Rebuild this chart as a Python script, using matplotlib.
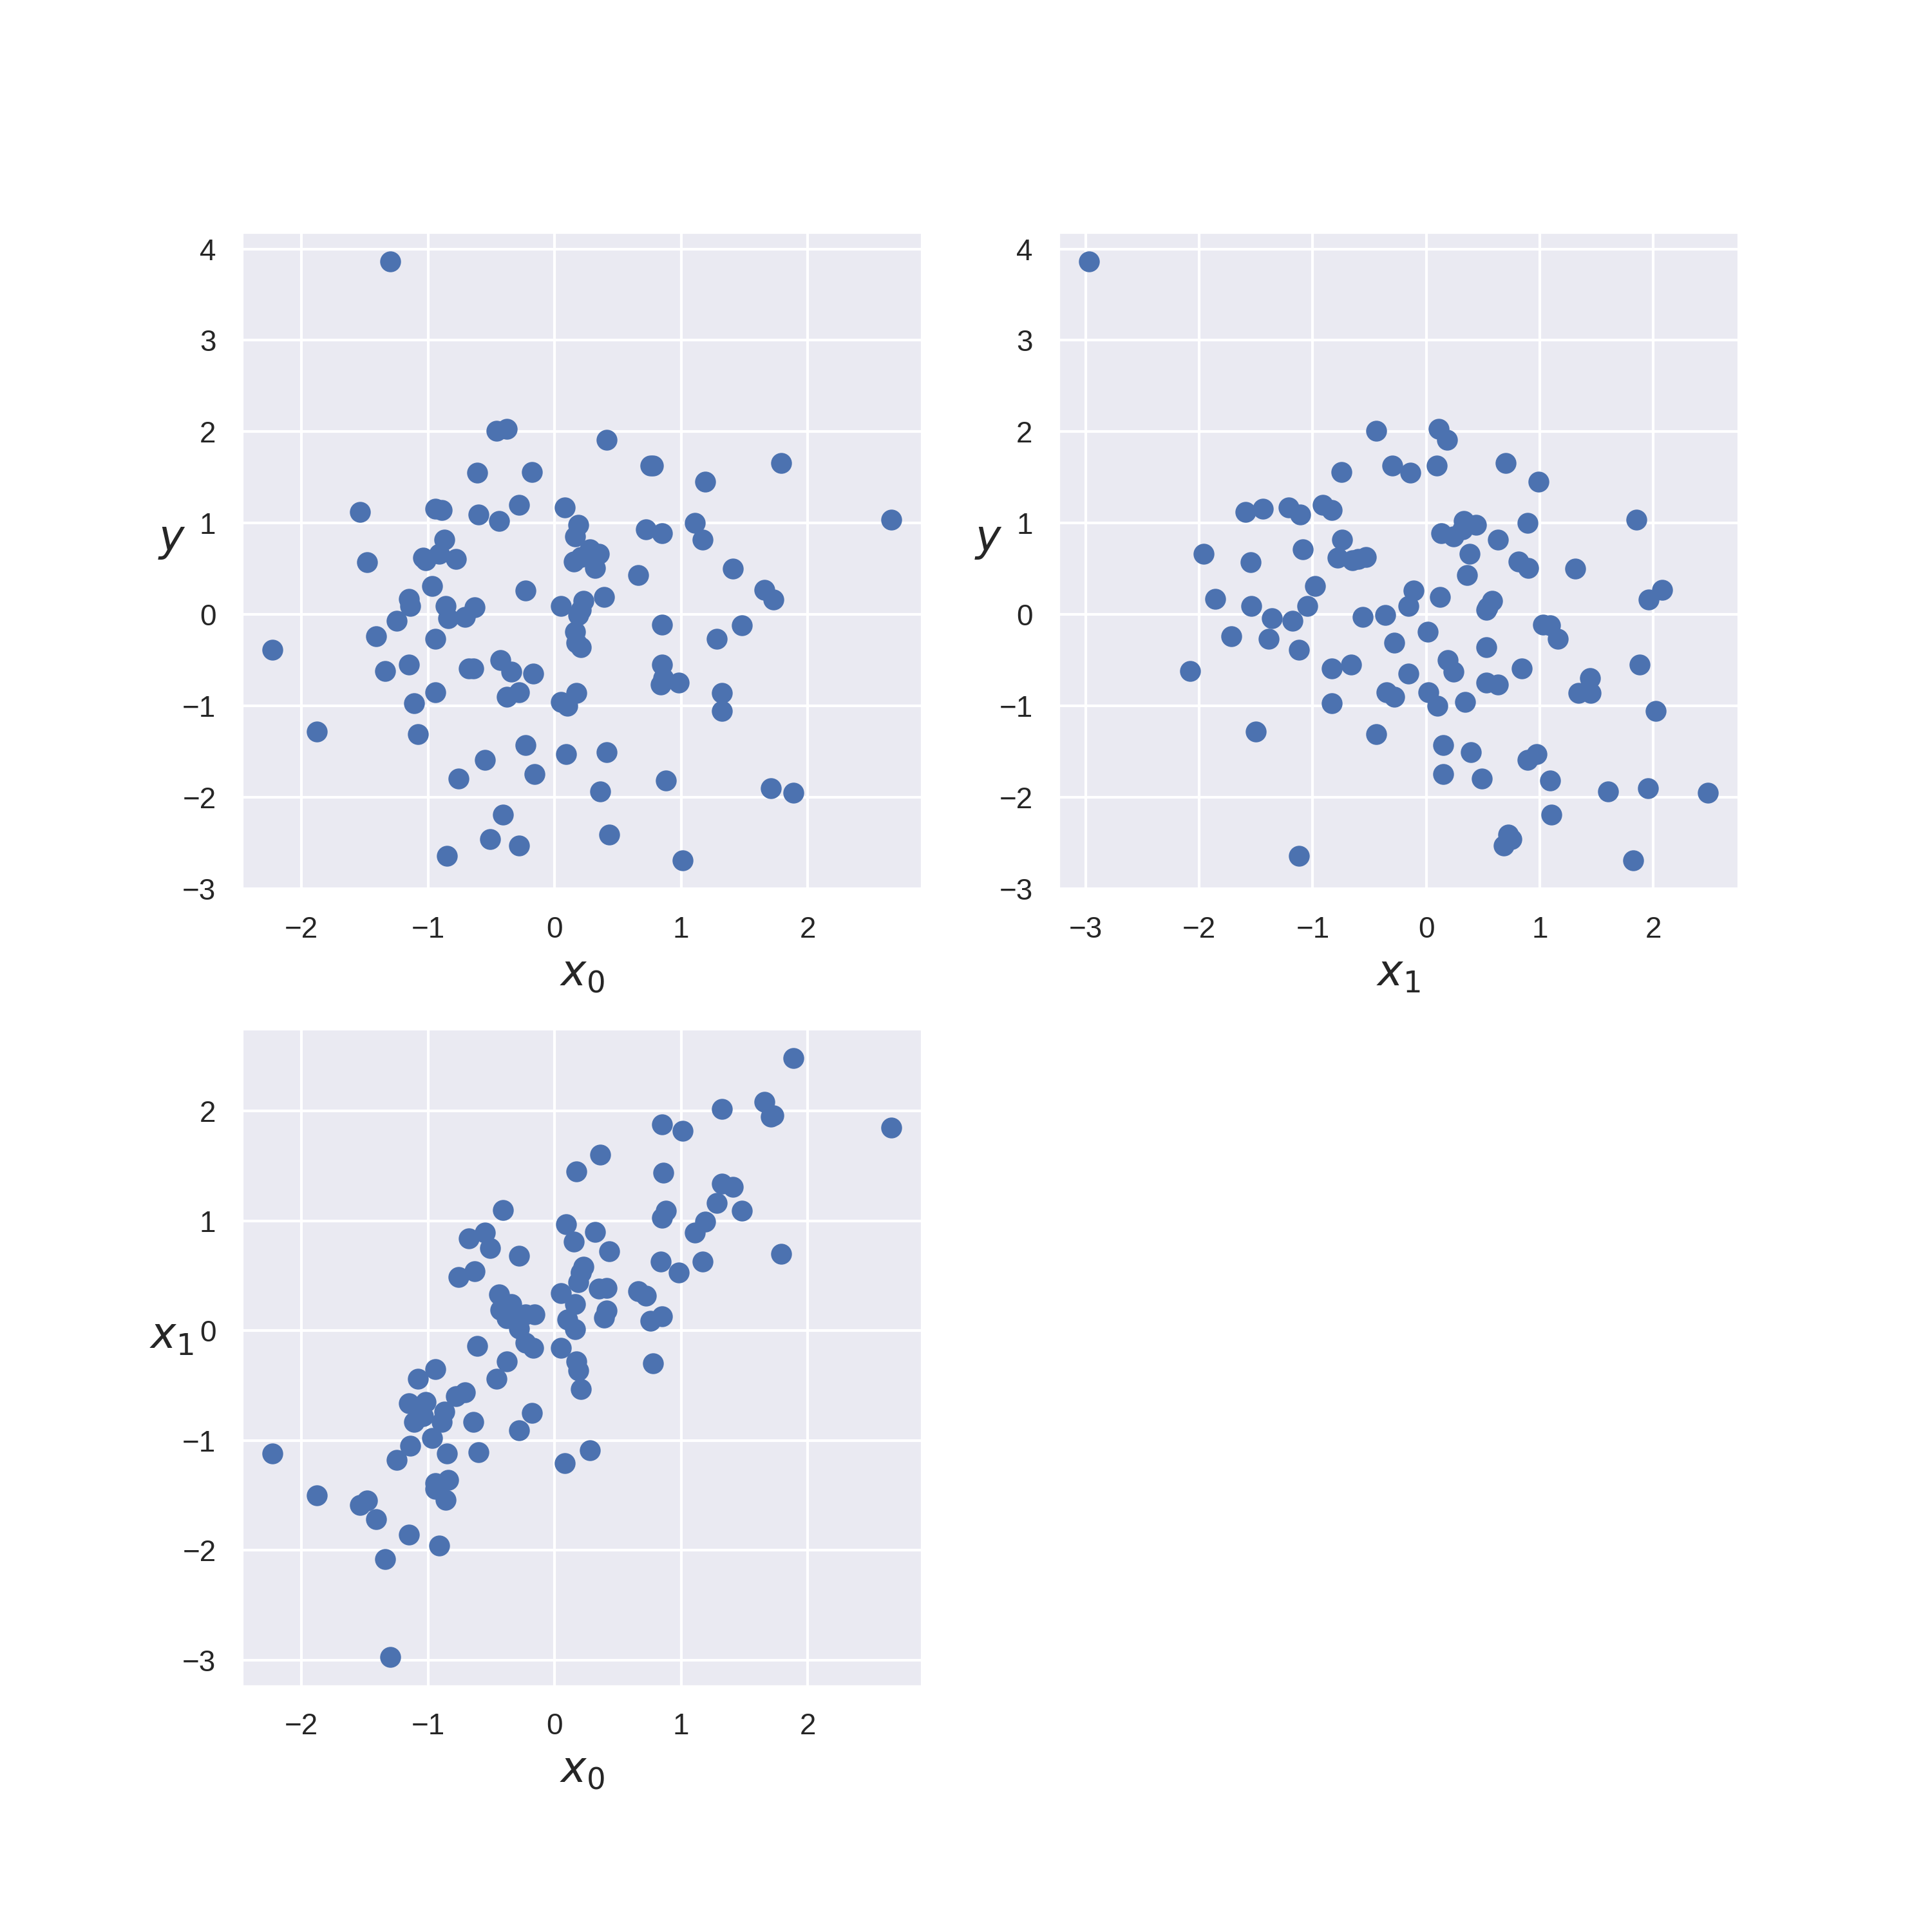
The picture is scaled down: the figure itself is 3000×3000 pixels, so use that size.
import matplotlib
matplotlib.use('Agg')
import matplotlib.pyplot as plt
import seaborn as sns

sns.set()
plt.rcParams['font.family'] = ['Liberation Sans', 'DejaVu Sans']

# values (100 samples)
x0 = [-1.30, -2.23, -1.88, -1.54, -1.48, -1.41, -1.34, -1.25, -1.15, -1.14,
      -1.15, -1.11, -1.08, -1.04, -1.02, -0.97, -0.94, -0.89, -0.91, -0.87,
      -0.94, -0.94, -0.86, -0.84, -0.78, -0.76, -0.85, -0.71, -0.68, -0.64,
      -0.63, -0.61, -0.60, -0.55, -0.51, -0.46, -0.38, -0.44, -0.43, -0.34,
      -0.38, -0.41, -0.28, -0.28, -0.28, -0.23, -0.23, -0.18, -0.17, -0.16,
      0.05, 0.08, 0.05, 0.10, 0.09, 0.15, 0.16, 0.19, 0.19, 0.16,
      0.17, 0.21, 0.17, 0.21, 0.23, 0.21, 0.28, 0.32, 0.35, 0.39,
      0.41, 0.36, 0.41, 0.43, 0.66, 0.72, 0.76, 0.78, 0.85, 0.85,
      0.85, 0.84, 0.86, 0.88, 0.98, 1.01, 1.11, 1.17, 1.19, 1.28,
      1.32, 1.32, 1.41, 1.48, 1.66, 1.73, 1.71, 1.79, 1.89, 2.66]

x1 = [-2.97, -1.12, -1.50, -1.59, -1.55, -1.72, -2.08, -1.18, -1.86, -1.05,
      -0.66, -0.83, -0.44, -0.78, -0.65, -0.98, -1.44, -0.83, -1.96, -0.74,
      -1.39, -0.35, -1.54, -1.36, -0.60, 0.49, -1.12, -0.56, 0.84, -0.83,
      0.54, -0.14, -1.11, 0.89, 0.75, -0.44, 0.11, 0.33, 0.19, 0.24,
      -0.28, 1.10, -0.91, 0.02, 0.68, 0.15, -0.11, -0.75, -0.16, 0.15,
      -0.16, -1.21, 0.34, 0.10, 0.97, 0.81, 0.24, 0.44, -0.36, 0.01,
      -0.28, 0.53, 1.45, 0.53, 0.58, -0.53, -1.09, 0.90, 0.38, 0.12,
      0.18, 1.60, 0.39, 0.72, 0.36, 0.32, 0.09, -0.30, 0.13, 1.03,
      1.88, 0.63, 1.44, 1.09, 0.53, 1.82, 0.89, 0.63, 0.99, 1.16,
      1.34, 2.02, 1.31, 1.09, 2.08, 1.96, 1.95, 0.70, 2.48, 1.85]

y = [3.86, -0.39, -1.28, 1.12, 0.57, -0.24, -0.62, -0.07, 0.17, 0.09,
     -0.55, -0.97, -1.31, 0.62, 0.59, 0.31, 1.16, 1.14, 0.66, 0.82,
     -0.27, -0.85, 0.09, -0.04, 0.61, -1.80, -2.64, -0.03, -0.59, -0.59,
     0.08, 1.55, 1.09, -1.59, -2.46, 2.01, 2.03, 1.02, -0.50, -0.63,
     -0.90, -2.19, 1.20, -0.85, -2.53, -1.43, 0.26, 1.56, -0.65, -1.75,
     0.09, 1.17, -0.96, -1.00, -1.53, 0.58, 0.85, 0.98, -0.01, -0.19,
     -0.31, -0.36, -0.86, 0.05, 0.15, 0.63, 0.71, 0.51, 0.66, 0.19,
     1.91, -1.94, -1.51, -2.41, 0.43, 0.93, 1.63, 1.63, 0.89, -0.11,
     -0.55, -0.77, -0.70, -1.82, -0.75, -2.69, 1.00, 0.82, 1.45, -0.27,
     -0.86, -1.06, 0.50, -0.12, 0.27, 0.16, -1.90, 1.66, -1.95, 1.04]

fig, axes = plt.subplots(2, 2, figsize=(10, 10))
fig.subplots_adjust(left=0.125, right=0.9, bottom=0.127, top=0.88, wspace=0.2, hspace=0.21)

# x0 vs y
ax = axes[0, 0]
ax.scatter(x0, y, s=46)
ax.set_xlabel('$x_0$', fontsize=16)
ax.set_ylabel('$y$', fontsize=16, rotation=0)

# x1 vs y
ax = axes[0, 1]
ax.scatter(x1, y, s=46)
ax.set_xlabel('$x_1$', fontsize=16)
ax.set_ylabel('$y$', fontsize=16, rotation=0)

# x0 vs x1
ax = axes[1, 0]
ax.scatter(x0, x1, s=46)
ax.set_xlabel('$x_0$', fontsize=16)
ax.set_ylabel('$x_1$', fontsize=16, rotation=0)

axes[1, 1].remove()

fig.savefig('out.png', dpi=300)
